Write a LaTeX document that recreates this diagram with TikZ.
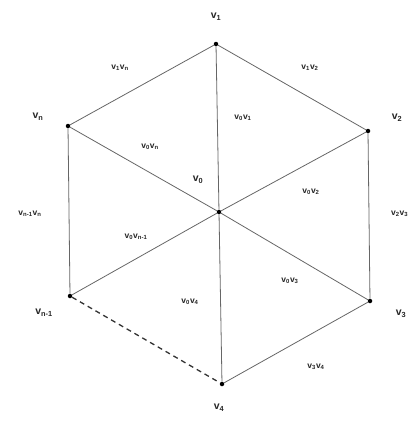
\documentclass[tikz,border=0pt]{standalone}
\usepackage{fontspec}
\setmainfont{Liberation Sans}
\begin{document}
\begin{tikzpicture}[x=1pt,y=-1pt,
  dot/.style={circle,fill=black,inner sep=0pt,minimum size=4.5pt},
  vlab/.style={font=\fontsize{10.5}{11}\selectfont\bfseries,text=black!85,inner sep=1pt},
  elab/.style={font=\fontsize{8.5}{9}\selectfont\bfseries,text=black!85,inner sep=1pt},
  edge/.style={draw=black!60,line width=0.8pt},
  dashedge/.style={draw=black!80,line width=1.3pt,dash pattern=on 5pt off 4pt}]
\useasboundingbox (0,0) rectangle (412,421);
\node[dot] (v1) at (216,44) {};
\node[dot] (v2) at (368,131) {};
\node[dot] (vn) at (68,126) {};
\node[dot] (v0) at (219,212) {};
\node[dot] (v3) at (370,301) {};
\node[dot] (vm) at (70,296) {};
\node[dot] (v4) at (222,384) {};
\draw[edge] (v1) -- (v2) -- (v3) -- (v4);
\draw[edge] (vm) -- (vn) -- (v1);
\draw[edge] (v0) -- (v1);
\draw[edge] (v0) -- (v2);
\draw[edge] (v0) -- (v3);
\draw[edge] (v0) -- (v4);
\draw[edge] (v0) -- (vn);
\draw[edge] (v0) -- (vm);
\draw[dashedge] (vm) -- (v4);
\node[vlab] (l1) at (216,17) {v\textsubscript{1}};
\node[vlab] (l2) at (397,118) {v\textsubscript{2}};
\node[vlab] (ln) at (38,117) {v\textsubscript{n}};
\node[vlab] (l0) at (198,180) {v\textsubscript{0}};
\node[vlab] (l3) at (401,314) {v\textsubscript{3}};
\node[vlab] (lm) at (44,313) {v\textsubscript{n-1}};
\node[vlab] (l4) at (219,408) {v\textsubscript{4}};
\node[elab] (e1n) at (120,68) {v\textsubscript{1}v\textsubscript{n}};
\node[elab] (e12) at (310,68) {v\textsubscript{1}v\textsubscript{2}};
\node[elab] (e01) at (243,118) {v\textsubscript{0}v\textsubscript{1}};
\node[elab] (e0n) at (150,147) {v\textsubscript{0}v\textsubscript{n}};
\node[elab] (e02) at (311,192) {v\textsubscript{0}v\textsubscript{2}};
\node[elab] (emn) at (30,214) {v\textsubscript{n-1}v\textsubscript{n}};
\node[elab,anchor=west] (e23) at (390,214) {v\textsubscript{2}v\textsubscript{3}};
\node[elab] (e0m) at (136,237) {v\textsubscript{0}v\textsubscript{n-1}};
\node[elab] (e03) at (290,281) {v\textsubscript{0}v\textsubscript{3}};
\node[elab] (e04) at (190,302) {v\textsubscript{0}v\textsubscript{4}};
\node[elab] (e34) at (316,367) {v\textsubscript{3}v\textsubscript{4}};
\end{tikzpicture}
\end{document}
